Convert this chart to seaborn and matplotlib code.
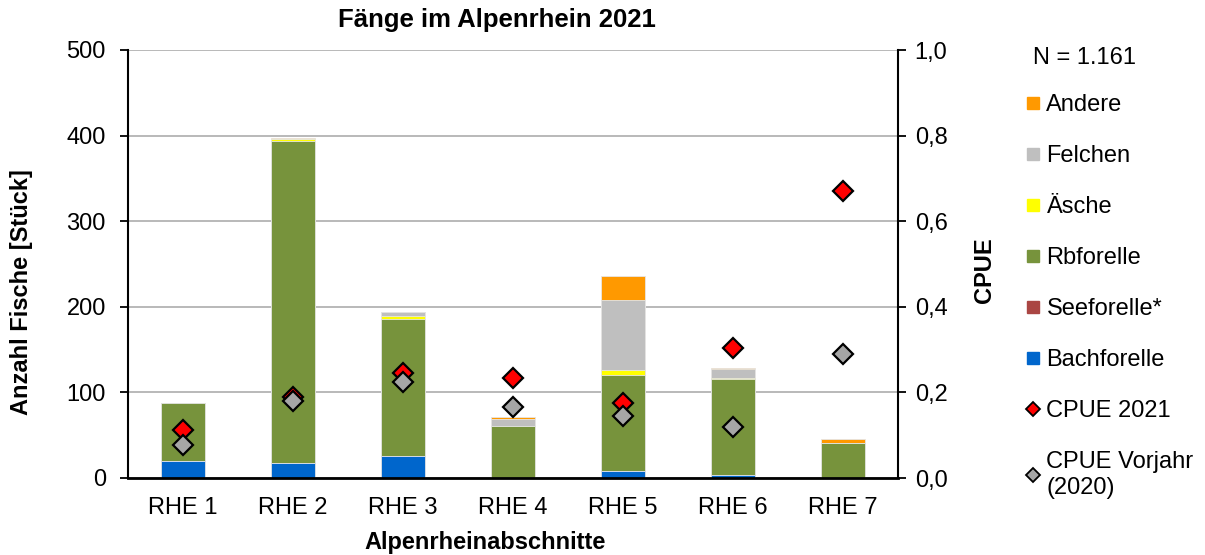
import numpy as np
import pandas as pd
import matplotlib
matplotlib.use("Agg")
import matplotlib.pyplot as plt
from matplotlib.lines import Line2D
import seaborn as sns

# Daten
abschnitte = ["RHE 1", "RHE 2", "RHE 3", "RHE 4", "RHE 5", "RHE 6", "RHE 7"]
bachforelle = [20, 17, 26, 0, 8, 4, 0]
seeforelle = [0, 0, 0, 0, 0, 0, 0]
rbforelle = [68, 377, 160, 61, 112, 112, 41]
aesche = [0, 2, 3, 0, 6, 1, 0]
felchen = [0, 0, 5, 8, 82, 10, 0]
andere = [0, 1, 0, 2, 28, 2, 4]
cpue_2021 = [0.113, 0.190, 0.246, 0.233, 0.176, 0.304, 0.671]
cpue_2020 = [0.077, 0.181, 0.225, 0.167, 0.145, 0.120, 0.289]

arten = ["Bachforelle", "Seeforelle*", "Rbforelle", "Äsche", "Felchen", "Andere"]
farben = ["#0066CC", "#AA4643", "#77933C", "#FFFF00", "#BFBFBF", "#FF9900"]

sns.set_style("white")
plt.rcParams["font.family"] = ["Liberation Sans", "DejaVu Sans"]
plt.rcParams["text.color"] = "black"
plt.rcParams["xtick.color"] = "black"
plt.rcParams["ytick.color"] = "black"
plt.rcParams["axes.labelcolor"] = "black"

FS = 17

df = pd.DataFrame({"Abschnitt": abschnitte,
                   "Bachforelle": bachforelle, "Seeforelle*": seeforelle,
                   "Rbforelle": rbforelle, "Äsche": aesche,
                   "Felchen": felchen, "Andere": andere})
cum = df[arten].cumsum(axis=1)

fig = plt.figure(figsize=(12.05, 5.55), dpi=100)
ax = fig.add_axes([128 / 1205, 77 / 555, 770 / 1205, 428 / 555])

# gestapelte Balken: kumulierte Summen von oben nach unten zeichnen
for art, farbe in reversed(list(zip(arten, farben))):
    sns.barplot(x=df["Abschnitt"], y=cum[art], color=farbe, saturation=1,
                width=0.4, edgecolor="#e6e6e6", linewidth=0.6, ax=ax, zorder=2)

ax.set_ylim(0, 500)
ax.set_xlim(-0.5, 6.5)
ax.set_yticks(range(0, 501, 100))
ax.yaxis.grid(True, color="#b3b3b3", linewidth=1.3, zorder=0)
ax.set_axisbelow(True)
ax.set_xlabel("")
ax.set_ylabel("")
ax.set_xticks(range(len(abschnitte)))
ax.set_xticklabels(abschnitte)
ax.set_xticks(np.arange(-0.5, 7, 1), minor=True)
ax.tick_params(axis="x", which="major", length=0, labelsize=FS, pad=14)
ax.tick_params(axis="x", which="minor", length=7, width=1.5, direction="out")
ax.tick_params(axis="y", labelsize=FS, length=6, width=1.3, direction="out", left=True, pad=10)
for s in ["top", "right"]:
    ax.spines[s].set_visible(False)
ax.spines["left"].set_linewidth(1.5)
ax.spines["bottom"].set_linewidth(2)
for s in ["left", "bottom"]:
    ax.spines[s].set_color("black")

# CPUE auf zweiter Achse
ax2 = ax.twinx()
ax2.plot(range(len(abschnitte)), cpue_2021, linestyle="none", marker="D", markersize=10,
         markerfacecolor="#FF0000", markeredgecolor="black", markeredgewidth=1.6, zorder=4)
ax2.plot(range(len(abschnitte)), cpue_2020, linestyle="none", marker="D", markersize=10,
         markerfacecolor="#A6A6A6", markeredgecolor="black", markeredgewidth=1.6, zorder=5)
ax2.set_ylim(0, 1.0)
ax2.set_yticks(np.arange(0, 1.01, 0.2))
ax2.set_yticklabels([f"{v:.1f}".replace(".", ",") for v in np.arange(0, 1.01, 0.2)])
ax2.tick_params(axis="y", labelsize=FS, length=6, width=1.3, direction="out", right=True, pad=6)
for s in ["top", "left", "bottom"]:
    ax2.spines[s].set_visible(False)
ax2.spines["right"].set_linewidth(1.5)
ax2.spines["right"].set_color("black")

# Beschriftungen
fig.text(497 / 1205, 1 - 20 / 555, "Fänge im Alpenrhein 2021", ha="center", va="center",
         fontsize=18.5, fontweight="bold")
fig.text(485 / 1205, 1 - 543 / 555, "Alpenrheinabschnitte", ha="center", va="center",
         fontsize=FS, fontweight="bold")
fig.text(22 / 1205, 1 - 292 / 555, "Anzahl Fische [Stück]", ha="center", va="center",
         rotation=90, fontsize=FS, fontweight="bold")
fig.text(985 / 1205, 1 - 270 / 555, "CPUE", ha="center", va="center",
         rotation=90, fontsize=FS, fontweight="bold")
fig.text(1033 / 1205, 1 - 58 / 555, "N = 1.161", ha="left", va="center", fontsize=FS)

# Legende
handles = [Line2D([], [], linestyle="none", marker="s", markersize=9,
                  markerfacecolor=f, markeredgecolor=f, label=a)
           for a, f in reversed(list(zip(arten, farben)))]
handles.append(Line2D([], [], linestyle="none", marker="D", markersize=7,
                      markerfacecolor="#FF0000", markeredgecolor="black",
                      markeredgewidth=1.3, label="CPUE 2021"))
handles.append(Line2D([], [], linestyle="none", marker="D", markersize=7,
                      markerfacecolor="#A6A6A6", markeredgecolor="black",
                      markeredgewidth=1.3, label="CPUE Vorjahr\n(2020)"))
fig.legend(handles=handles, loc="upper left", bbox_to_anchor=(1024 / 1205, 1 - 94 / 555),
           frameon=False, fontsize=FS, handlelength=0.8, handletextpad=0.15,
           labelspacing=1.23, borderaxespad=0, borderpad=0)

fig.savefig("out.png", dpi=100)
